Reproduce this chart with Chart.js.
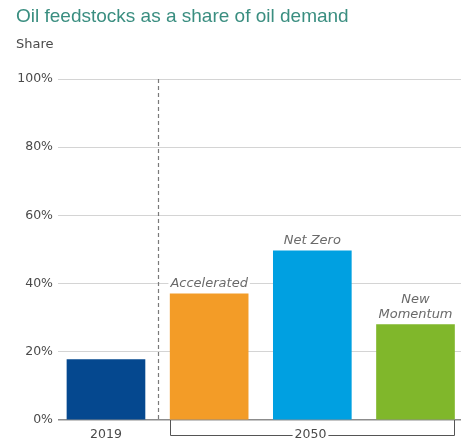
<!DOCTYPE html>
<html>
<head>
<meta charset="utf-8">
<script src="https://cdn.jsdelivr.net/npm/chart.js@4/dist/chart.umd.min.js"></script>
<style>
    html, body { margin: 0; padding: 0; background: #ffffff; }
    #wrap { width: 461px; height: 441px; position: relative; }
</style>
</head>
<body>
<div id="wrap"><canvas id="feedstockChart"></canvas></div>
<script>
// ========== DADOS ==========
const categories = ['2019', 'Accelerated', 'Net Zero', 'New Momentum'];
const shares = [17.7, 37, 49.6, 28];
const yTicks = [0, 20, 40, 60, 80, 100];
const scenarioLabels = [[], ['Accelerated'], ['Net Zero'], ['New', 'Momentum']];
const groupLabels = ['2019', '2050'];

const COLORS = {
    bars: ['#05488f', '#f39c27', '#00a0e1', '#80b72b'],
    title: '#3a8e80',
    text: '#4a4a4a',
    label: '#6a6a6a',
    grid: '#d4d4d4',
    axis: '#8c8c8c'
};

const FONT = '"DejaVu Sans", sans-serif';

// ========== ANOTAÇÕES (título, rótulos, chave 2050) ==========
const annotations = {
    id: 'annotations',
    afterDatasetsDraw(chart) {
        const ctx = chart.ctx;
        const x = chart.scales.x;
        const y = chart.scales.y;
        const area = chart.chartArea;
        const half = 39;
        ctx.save();

        // título e unidade
        ctx.textBaseline = 'middle';
        ctx.textAlign = 'left';
        ctx.fillStyle = COLORS.title;
        ctx.font = '19px "Liberation Sans", Arial, sans-serif';
        ctx.fillText('Oil feedstocks as a share of oil demand', 16, 17);
        ctx.fillStyle = COLORS.text;
        ctx.font = '13px ' + FONT;
        ctx.fillText('Share', 16, 45);

        // linha tracejada entre 2019 e 2050
        const dx = Math.round(x.getPixelForValue(0.5)) + 0.5;
        ctx.strokeStyle = '#7a7a7a';
        ctx.lineWidth = 1.2;
        ctx.setLineDash([4, 3]);
        ctx.beginPath();
        ctx.moveTo(dx, area.top);
        ctx.lineTo(dx, area.bottom);
        ctx.stroke();
        ctx.setLineDash([]);

        // rótulos dos cenários sobre as barras
        ctx.font = 'italic 13px ' + FONT;
        ctx.textAlign = 'center';
        scenarioLabels.forEach((lines, i) => {
            if (!lines.length) return;
            const cx = x.getPixelForValue(i);
            const top = y.getPixelForValue(shares[i]);
            lines.forEach((line, j) => {
                const cy = top - 10 - (lines.length - 1 - j) * 14.5;
                const w = ctx.measureText(line).width;
                ctx.fillStyle = '#ffffff';
                ctx.fillRect(cx - w / 2 - 2, cy - 7, w + 4, 14);
                ctx.fillStyle = COLORS.label;
                ctx.fillText(line, cx, cy);
            });
        });

        // rótulos do eixo x
        ctx.font = '12.5px ' + FONT;
        ctx.fillStyle = COLORS.text;
        const baseY = 435;
        ctx.fillText(groupLabels[0], x.getPixelForValue(0), baseY);

        const left = Math.round(x.getPixelForValue(1) - half) + 0.5;
        const right = Math.round(x.getPixelForValue(categories.length - 1) + half) - 0.5;
        const mid = (left + right) / 2 - 2;
        const tw = ctx.measureText(groupLabels[1]).width;
        ctx.fillText(groupLabels[1], mid, baseY);
        ctx.strokeStyle = '#555555';
        ctx.lineWidth = 1;
        ctx.beginPath();
        ctx.moveTo(left, area.bottom);
        ctx.lineTo(left, baseY + 0.5);
        ctx.lineTo(mid - tw / 2 - 2, baseY + 0.5);
        ctx.moveTo(mid + tw / 2 + 2, baseY + 0.5);
        ctx.lineTo(right, baseY + 0.5);
        ctx.lineTo(right, area.bottom);
        ctx.stroke();

        ctx.restore();
    }
};

// ========== GRÁFICO ==========
function createFeedstockChart() {
    const canvas = document.getElementById('feedstockChart');
    if (!canvas) return;

    new Chart(canvas, {
        type: 'bar',
        data: {
            labels: categories,
            datasets: [{
                label: 'Share',
                data: shares.map((v, i) => ({ x: i, y: v })),
                backgroundColor: COLORS.bars,
                borderWidth: 0,
                barThickness: 78
            }]
        },
        options: {
            responsive: true,
            maintainAspectRatio: false,
            animation: false,
            layout: {
                padding: { top: 79, bottom: 21, left: 0, right: 0 }
            },
            plugins: {
                legend: { display: false },
                tooltip: { enabled: false }
            },
            scales: {
                x: {
                    type: 'linear',
                    display: false,
                    offset: false,
                    min: -0.465,
                    max: 3.441
                },
                y: {
                    min: 0,
                    max: 100,
                    afterFit: function (scale) {
                        scale.width = 58;
                    },
                    afterBuildTicks: function (scale) {
                        scale.ticks = yTicks.map(v => ({ value: v }));
                    },
                    ticks: {
                        padding: 5,
                        color: COLORS.text,
                        font: { family: FONT, size: 12.5 },
                        callback: function (value) {
                            return value + '%';
                        }
                    },
                    border: { display: false },
                    grid: {
                        drawTicks: false,
                        color: ctx => ctx.tick && ctx.tick.value === 0 ? COLORS.axis : COLORS.grid,
                        lineWidth: ctx => ctx.tick && ctx.tick.value === 0 ? 1.5 : 1
                    }
                }
            }
        },
        plugins: [annotations]
    });
}

createFeedstockChart();
</script>
</body>
</html>
